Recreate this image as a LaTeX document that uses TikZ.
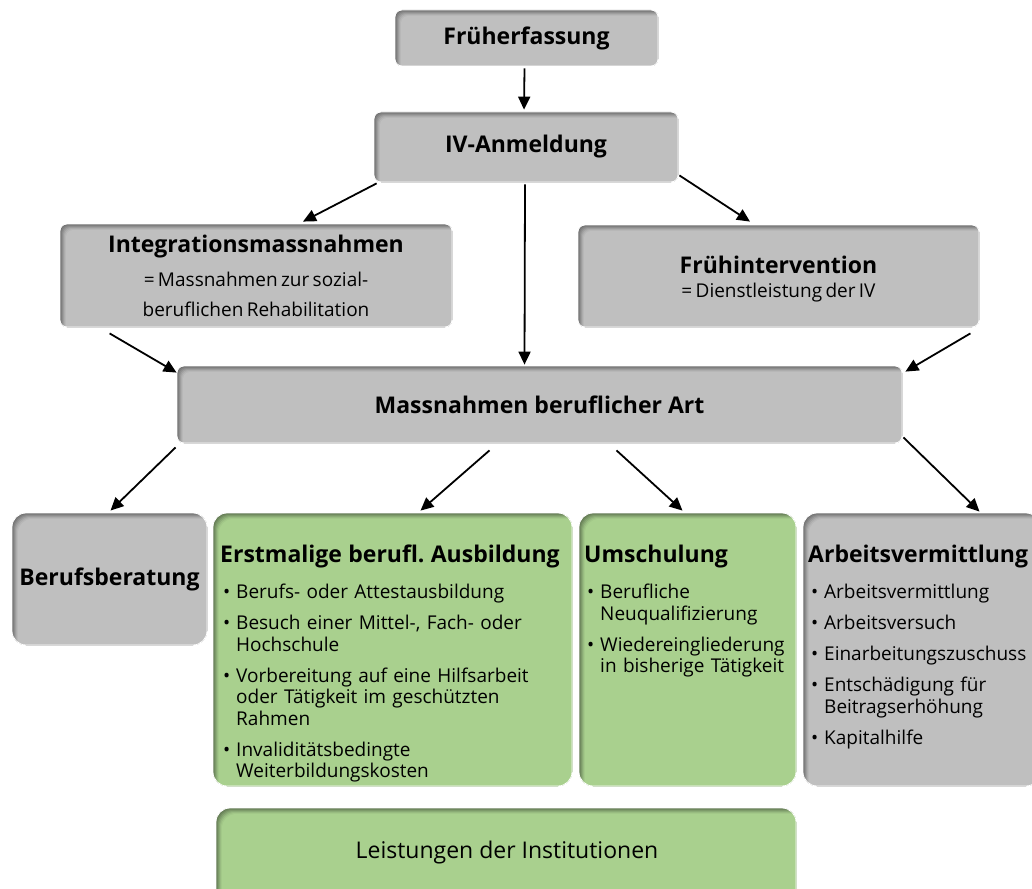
\documentclass[tikz,border=0pt]{standalone}
\usepackage{fontspec}
\setmainfont{Open Sans}
\usetikzlibrary{arrows.meta,calc}
\frenchspacing
\definecolor{boxgray}{RGB}{191,191,191}
\definecolor{boxgreen}{RGB}{169,208,142}
\newcommand\bodyfont{\fontsize{19}{21.5}\selectfont}
\newcommand\titlefont{\fontsize{23}{27}\selectfont\bfseries}
\newcommand\bul[1]{\par\hangindent=16pt\hangafter=1\noindent\makebox[16pt][l]{\hspace{3pt}\textbullet}#1}
\tikzset{
  x=1pt, y=-1pt,
  bev/.style 2 args={draw=white, line width=0.8pt, fill=#1!58!black, rounded corners=#2,
    path picture={
      \foreach \i/\p in {1/66,2/74,3/82,4/90,5/96,6/100}{
        \fill[#1!\p!black, rounded corners=#2]
          ([shift={(\i,\i)}]path picture bounding box.north west) rectangle
          ([shift={(8,8)}]path picture bounding box.south east);
      }}},
  graybox/.style={bev={boxgray}{7pt}, inner sep=0pt},
  graybig/.style={bev={boxgray}{14pt}, inner sep=0pt},
  greenbig/.style={bev={boxgreen}{14pt}, inner sep=0pt},
  arr/.style={draw=black, line width=1.8pt, -{Triangle[length=13pt,width=12pt]}},
  lst/.style={anchor=north west, inner sep=0pt, align=left, font=\bodyfont},
}
\begin{document}
\begin{tikzpicture}
\useasboundingbox[fill=white] (0,0) rectangle (1032,888);

% top boxes
\node[graybox, minimum width=263pt, minimum height=56pt] (fru) at (526.5,38)
  {\titlefont Früherfassung};
\node[graybox, minimum width=304pt, minimum height=70pt] (iv) at (526,147)
  {\titlefont IV-Anmeldung};
\node[graybox, minimum width=392pt, minimum height=103pt] (integ) at (256,275.5) {};
\node[inner sep=0pt, align=center, text width=385pt, anchor=north] (integt) at (256,235)
  {\titlefont Integrationsmassnahmen\par\vspace{4pt}%
   \mdseries\fontsize{19}{30}\selectfont =\ Massnahmen zur sozial-\par beruflichen Rehabilitation\par};
\node[graybox, minimum width=401pt, minimum height=102pt] (frueh) at (778.5,276) {};
\node[inner sep=0pt, align=center, text width=390pt, anchor=north] (fruehth) at (778.5,256)
  {\titlefont Frühintervention\par\vspace{1pt}%
   \mdseries\fontsize{19}{23}\selectfont =\ Dienstleistung der IV\par};
\node[graybox, minimum width=725pt, minimum height=77pt] (mass) at (539.5,404.5)
  {\titlefont Massnahmen beruflicher Art};

% bottom boxes
\node[graybig, minimum width=195pt, minimum height=132pt] (beruf) at (109.5,579)
  {\titlefont Berufsberatung};
\node[greenbig, minimum width=359pt, minimum height=273pt] (erst) at (392.5,649.5) {};
\node[greenbig, minimum width=217pt, minimum height=273pt] (umsch) at (687.5,649.5) {};
\node[graybig, minimum width=237pt, minimum height=273pt] (arb) at (921.5,649.5) {};
\node[greenbig, minimum width=580pt, minimum height=100pt] (leist) at (506,858) {};
\node[font=\fontsize{23}{27}\selectfont] (leistt) at (507,853) {Leistungen der Institutionen};

% list texts
\node[lst, text width=352pt] (erstt) at (220,545) {%
  {\titlefont Erstmalige berufl. Ausbildung\par}\vspace{5pt}%
  \parskip=9.5pt
  \bul{Berufs- oder Attestausbildung}
  \bul{Besuch einer Mittel-, Fach- oder\newline Hochschule}
  \bul{Vorbereitung auf eine Hilfsarbeit\newline oder Tätigkeit im geschützten\newline Rahmen}
  \bul{Invaliditätsbedingte\newline Weiterbildungskosten}\par};
\node[lst, text width=212pt] (umscht) at (584,545) {%
  {\titlefont Umschulung\par}\vspace{5pt}%
  \parskip=9.5pt
  \bul{Berufliche\newline Neuqualifizierung}
  \bul{Wiedereingliederung\newline in bisherige Tätigkeit}\par};
\node[lst, text width=235pt] (arbt) at (808,545) {%
  {\titlefont Arbeitsvermittlung\par}\vspace{5pt}%
  \parskip=9.5pt
  \bul{Arbeitsvermittlung}
  \bul{Arbeitsversuch}
  \bul{Einarbeitungszuschuss}
  \bul{Entschädigung für\newline Beitragserhöhung}
  \bul{Kapitalhilfe}\par};

% connectors
\draw[arr] ([shift={(-2,2)}]fru.south) -- ([shift={(-2,-2)}]iv.north);
\draw[arr] ([shift={(3,1)}]iv.south west) -- ([shift={(47,-2)}]integ.north);
\draw[arr] ([shift={(-1,2)}]iv.south) -- ([shift={(-15,-1)}]mass.north);
\draw[arr] ([shift={(1,-7)}]iv.south east) -- ([shift={(-28.5,-3)}]frueh.north);
\draw[arr] ([shift={(50,6)}]integ.south west) -- ([shift={(0,7)}]mass.north west);
\draw[arr] ([shift={(-9,6)}]frueh.south east) -- ([shift={(3,6)}]mass.north east);
\draw[arr] ([shift={(-1,4)}]mass.south west) -- ([shift={(1,-2)}]beruf.north);
\draw[arr] ([shift={(-50,7)}]mass.south) -- ([shift={(28,-2)}]erst.north);
\draw[arr] ([shift={(77,7)}]mass.south) -- ([shift={(-5,-2)}]umsch.north);
\draw[arr] ([shift={(1,-6)}]mass.south east) -- ([shift={(58,-1)}]arb.north);
\end{tikzpicture}
\end{document}
